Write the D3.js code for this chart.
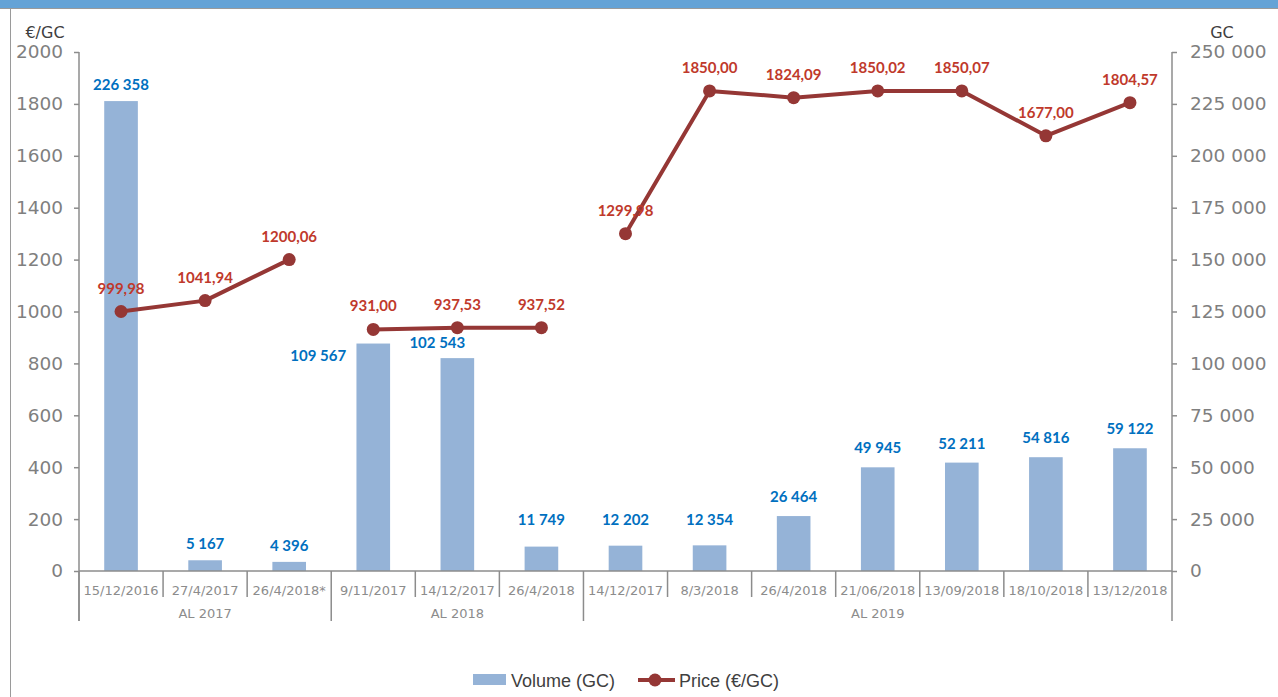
<!DOCTYPE html>
<html>
<head>
<meta charset="utf-8">
<script src="https://cdn.jsdelivr.net/npm/d3@7"></script>
<style>
  html, body { margin: 0; padding: 0; background: #ffffff; }
  svg { display: block; }
</style>
</head>
<body>
<svg id="chart" width="1278" height="697"></svg>
<script>
// ---- data ----
const categories = ["15/12/2016","27/4/2017","26/4/2018*","9/11/2017","14/12/2017","26/4/2018","14/12/2017","8/3/2018","26/4/2018","21/06/2018","13/09/2018","18/10/2018","13/12/2018"];
const groups = ["AL 2017","AL 2017","AL 2017","AL 2018","AL 2018","AL 2018","AL 2019","AL 2019","AL 2019","AL 2019","AL 2019","AL 2019","AL 2019"];
const volumes = [226358, 5167, 4396, 109567, 102543, 11749, 12202, 12354, 26464, 49945, 52211, 54816, 59122];
const prices = [999.98, 1041.94, 1200.06, 931.00, 937.53, 937.52, 1299.98, 1850.00, 1824.09, 1850.02, 1850.07, 1677.00, 1804.57];
const leftTicks = [0, 200, 400, 600, 800, 1000, 1200, 1400, 1600, 1800, 2000];
const rightTicks = [0, 25000, 50000, 75000, 100000, 125000, 150000, 175000, 200000, 225000, 250000];
const seriesNames = ["Volume (GC)", "Price (€/GC)"];
const leftUnit = "€/GC";
const rightUnit = "GC";

(function () {
// ---- setup ----
const svg = d3.select("#chart");
const fr = d3.formatLocale({decimal: ",", thousands: " ", grouping: [3], currency: ["", " €"]});
const fmtVol = fr.format(",.0f");
const fmtPrice = fr.format(".2f");

const plotLeft = 79, plotRight = 1172, plotTop = 52, base = 571;
const x = d3.scaleBand().domain(d3.range(categories.length)).range([plotLeft, plotRight]).paddingInner(0).paddingOuter(0);
const yL = d3.scaleLinear().domain([0, 2000]).range([base, plotTop]);
const yR = d3.scaleLinear().domain([0, 250000]).range([base, plotTop]);

const axisColor = "#8c8c8c";
const barColor = "#95b3d7";
const lineColor = "#953735";
const volLabelColor = "#0070c0";
const priceLabelColor = "#c0392b";
const tickFont = "'DejaVu Sans', Verdana, sans-serif";
const labelFont = "Lato, 'Open Sans', sans-serif";

// header banner + frame
svg.append("rect").attr("x", 0).attr("y", 0).attr("width", 1278).attr("height", 8).attr("fill", "#65a3d6");
svg.append("line").attr("x1", 0).attr("x2", 1278).attr("y1", 8.5).attr("y2", 8.5).attr("stroke", "#9a9a9a").attr("stroke-width", 1);
svg.append("line").attr("x1", 10.5).attr("x2", 10.5).attr("y1", 9).attr("y2", 697).attr("stroke", "#9a9a9a").attr("stroke-width", 1);

// ---- bars ----
const bw = x.bandwidth() * 0.4;
svg.append("g").selectAll("rect").data(volumes).join("rect")
  .attr("x", (d, i) => x(i) + (x.bandwidth() - bw) / 2)
  .attr("y", d => yR(d))
  .attr("width", bw)
  .attr("height", d => base - yR(d))
  .attr("fill", barColor);

// ---- axes ----
const gL = svg.append("g").attr("transform", `translate(${plotLeft},0)`)
  .call(d3.axisLeft(yL).tickValues(leftTicks).tickSize(5).tickPadding(11).tickFormat(d3.format("d")));
const gR = svg.append("g").attr("transform", `translate(${plotRight},0)`)
  .call(d3.axisRight(yR).tickValues(rightTicks).tickSize(5).tickPadding(13).tickFormat(fmtVol));
[gL, gR].forEach(g => {
  g.select(".domain").remove();
  g.selectAll(".tick line").attr("stroke", axisColor).attr("stroke-width", 1.5);
  g.selectAll(".tick text").attr("fill", "#7f7f7f").style("font-family", tickFont).style("font-size", "18.5px");
});
svg.append("line").attr("x1", plotLeft).attr("x2", plotLeft).attr("y1", plotTop).attr("y2", 621).attr("stroke", axisColor).attr("stroke-width", 1.5);
svg.append("line").attr("x1", plotRight).attr("x2", plotRight).attr("y1", plotTop).attr("y2", 621).attr("stroke", axisColor).attr("stroke-width", 1.5);
svg.append("line").attr("x1", plotLeft).attr("x2", plotRight).attr("y1", base).attr("y2", base).attr("stroke", axisColor).attr("stroke-width", 1.5);

// unit labels
svg.append("text").attr("x", 45).attr("y", 38).attr("text-anchor", "middle").attr("fill", "#404040")
  .style("font-family", tickFont).style("font-size", "16px").text(leftUnit);
svg.append("text").attr("x", 1222).attr("y", 38).attr("text-anchor", "middle").attr("fill", "#404040")
  .style("font-family", tickFont).style("font-size", "16px").text(rightUnit);

// category separators and labels
const gX = svg.append("g");
categories.forEach((c, i) => {
  if (i > 0 && groups[i] === groups[i - 1]) {
    gX.append("line").attr("x1", x(i)).attr("x2", x(i)).attr("y1", base).attr("y2", 597)
      .attr("stroke", axisColor).attr("stroke-width", 1.5);
  }
  gX.append("text").attr("x", x(i) + x.bandwidth() / 2).attr("y", 595)
    .attr("text-anchor", "middle").attr("fill", "#8c8c8c")
    .style("font-family", tickFont).style("font-size", "13px").text(c);
});
const groupNames = Array.from(new Set(groups));
groupNames.forEach(gname => {
  const idx = groups.map((g, i) => g === gname ? i : -1).filter(i => i >= 0);
  const x0 = x(idx[0]), x1 = x(idx[idx.length - 1]) + x.bandwidth();
  gX.append("line").attr("x1", x0).attr("x2", x0).attr("y1", base).attr("y2", 621)
    .attr("stroke", axisColor).attr("stroke-width", 1.5);
  gX.append("text").attr("x", (x0 + x1) / 2).attr("y", 618)
    .attr("text-anchor", "middle").attr("fill", "#8c8c8c")
    .style("font-family", tickFont).style("font-size", "13px").text(gname);
});

// ---- price line (one segment per group) ----
const line = d3.line().x(d => x(d.i) + x.bandwidth() / 2).y(d => yL(d.v));
groupNames.forEach(gname => {
  const pts = prices.map((v, i) => ({v, i})).filter(d => groups[d.i] === gname);
  svg.append("path").datum(pts).attr("d", line).attr("fill", "none")
    .attr("stroke", lineColor).attr("stroke-width", 4).attr("stroke-linejoin", "round");
});
svg.append("g").selectAll("circle").data(prices).join("circle")
  .attr("cx", (d, i) => x(i) + x.bandwidth() / 2)
  .attr("cy", d => yL(d))
  .attr("r", 6.5)
  .attr("fill", lineColor);

// ---- data labels ----
svg.append("g").selectAll("text").data(volumes).join("text")
  .attr("x", (d, i) => {
    const cx = x(i) + x.bandwidth() / 2;
    if (i === 3) return cx - 55;
    if (i === 4) return cx - 20;
    return cx;
  })
  .attr("y", (d, i) => {
    if (i === 3) return yR(d) + 17;
    if (i === 4) return yR(d) - 10;
    if (i < 3) return yR(d) - 11;
    return Math.min(yR(d) - 14, 525);
  })
  .attr("text-anchor", "middle")
  .attr("fill", volLabelColor)
  .style("font-family", labelFont).style("font-weight", 700).style("font-size", "15px")
  .text(d => fmtVol(d));

svg.append("g").selectAll("text").data(prices).join("text")
  .attr("x", (d, i) => x(i) + x.bandwidth() / 2)
  .attr("y", d => yL(d) - 18)
  .attr("text-anchor", "middle")
  .attr("fill", priceLabelColor)
  .style("font-family", labelFont).style("font-weight", 700).style("font-size", "15px")
  .text(d => fmtPrice(d));

// ---- legend ----
const lg = svg.append("g");
lg.append("rect").attr("x", 473).attr("y", 674).attr("width", 33).attr("height", 11).attr("fill", barColor);
lg.append("text").attr("x", 511).attr("y", 687).attr("fill", "#404040")
  .style("font-family", "'Liberation Sans', Arial, sans-serif").style("font-size", "18px").text(seriesNames[0]);
lg.append("line").attr("x1", 638).attr("x2", 675).attr("y1", 680).attr("y2", 680).attr("stroke", lineColor).attr("stroke-width", 4);
lg.append("circle").attr("cx", 655).attr("cy", 680).attr("r", 6.5).attr("fill", lineColor);
lg.append("text").attr("x", 679).attr("y", 687).attr("fill", "#404040")
  .style("font-family", "'Liberation Sans', Arial, sans-serif").style("font-size", "18px").text(seriesNames[1]);
})();
</script>
</body>
</html>
